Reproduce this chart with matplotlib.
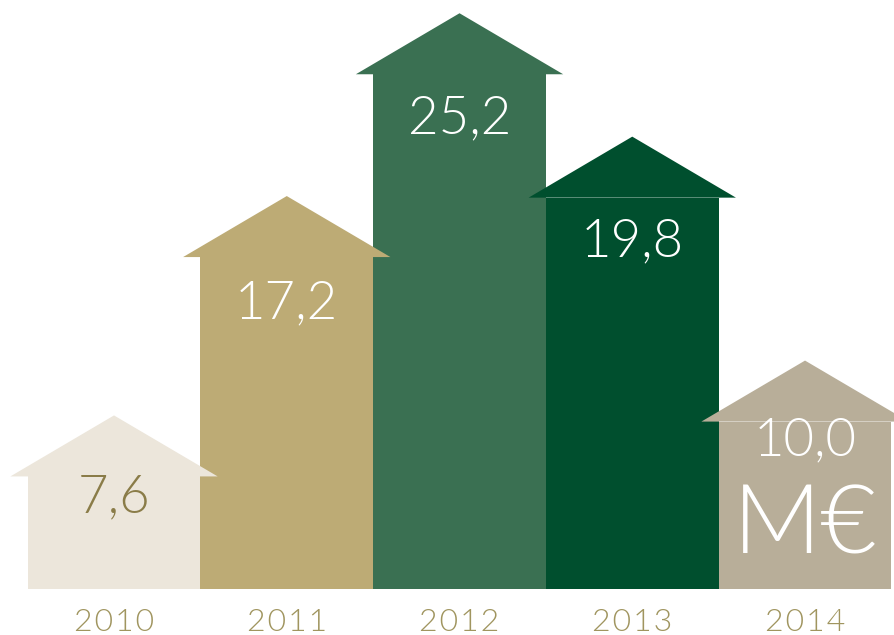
import matplotlib
matplotlib.use("Agg")
import matplotlib.pyplot as plt
from matplotlib.patches import Polygon, Rectangle
from matplotlib import font_manager

# -------------------------------
# Data
# -------------------------------
years = ["2010", "2011", "2012", "2013", "2014"]
values = [7.6, 17.2, 25.2, 19.8, 10.0]
labels = ["7,6", "17,2", "25,2", "19,8", "10,0"]

# -------------------------------
# Style
# -------------------------------
colors = ["#ece6db", "#bdab75", "#3a7052", "#004f2e", "#b8ae99"]
text_colors = ["#8a7c48", "white", "white", "white", "white"]
label_drop = [3.6, 4.7, 4.6, 4.6, 3.5]  # label centre below roof apex
year_color = "#a0955f"

names = {f.name for f in font_manager.fontManager.ttflist}
family = ["Lato", "DejaVu Sans"] if "Lato" in names else ["DejaVu Sans"]

roof_h = 2.67
body_w = 1.0
roof_w = 1.2

fig = plt.figure(figsize=(8.94, 6.35), dpi=100)
ax = fig.add_axes([0, 0, 1, 1])
ax.set_xlim(-0.66, 4.515)
ax.set_ylim(-2.01, 25.78)
ax.axis("off")

for i, (v, c) in enumerate(zip(values, colors)):
    wall = v - roof_h
    # walls first, roofs on top so the eaves overlap the neighbours
    ax.add_patch(Rectangle((i - body_w / 2, 0), body_w, wall, fc=c, ec="none", zorder=2))
    ax.add_patch(Polygon([(i - roof_w / 2, wall), (i, v), (i + roof_w / 2, wall)],
                         closed=True, fc=c, ec="none", zorder=3))
    ax.text(i, v - label_drop[i], labels[i], ha="center", va="center",
            fontsize=38, color=text_colors[i], family=family, fontweight=300, zorder=5)
    # spaced-out year labels
    ax.text(i, -1.45, "\u200a".join(years[i]), ha="center", va="center", fontsize=23,
            color=year_color, family=family, fontweight=300, zorder=5)

ax.text(4, -2.01 + (635 - 527) / 22.85, "M€", ha="center", va="center", fontsize=70,
        color="white", family=family, fontweight=300, zorder=5)

fig.savefig("out.png", dpi=100)
